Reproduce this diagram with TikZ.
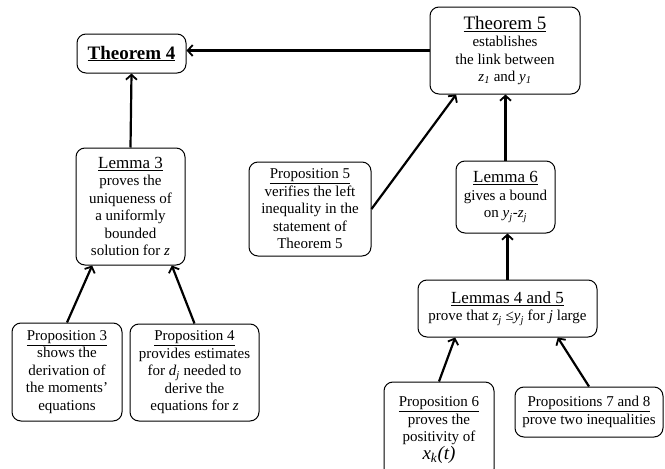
\documentclass[tikz,border=0pt]{standalone}
\usepackage{fontspec}
\setmainfont{Liberation Serif}
\usepackage{tikz}
\usetikzlibrary{arrows.meta}

\newcommand{\isub}[2]{\textit{#1}\textsubscript{\textit{#2}}}

\begin{document}
\begin{tikzpicture}[x=1pt,y=-1pt]
          \tikzstyle{block} = [rectangle, rounded corners=9pt, draw, line width=1pt, align=center, inner sep=0pt, font=\fontsize{15}{17.5}\selectfont]
          \tikzstyle{dep} = [line width=2.2pt, -{Straight Barb[length=5pt,width=11pt,line width=1.8pt]}]
          \newcommand{\thmhead}[1]{{\fontsize{19}{22}\selectfont\underline{#1}}}
          \newcommand{\lemhead}[1]{{\fontsize{17}{20}\selectfont\underline{#1}}}
        \useasboundingbox (0,0) rectangle (665,469);
        \node[block, minimum width=109pt, minimum height=39pt] (t4) at (131.5,53.5) {{\fontsize{19}{22}\selectfont\bfseries\underline{Theorem 4}}};
        \node[block, minimum width=150pt, minimum height=87pt] (t5) at (505,50.5) {\thmhead{Theorem 5}\\ establishes\\ the link between\\ \isub{z}{1} and \isub{y}{1}};
        \node[block, minimum width=109pt, minimum height=117pt] (l3) at (130.5,206.5) {\lemhead{Lemma 3}\\ proves the\\ uniqueness of\\ a uniformly\\ bounded\\ solution for \textit{z}};
        \node[block, minimum width=122pt, minimum height=94pt] (p5) at (310,209) {\underline{Proposition 5}\\ verifies the left\\ inequality in the\\ statement of\\ Theorem 5};
        \node[block, minimum width=99pt, minimum height=72pt] (l6) at (505.5,197) {\lemhead{Lemma 6}\\ gives a bound\\ on \isub{y}{j}-\isub{z}{j}};
        \node[block, minimum width=179pt, minimum height=57pt] (l45) at (507.5,308.5) {\lemhead{Lemmas 4 and 5}\\ prove that \isub{z}{j} ≤\isub{y}{j} for \textit{j} large};
        \node[block, minimum width=110pt, minimum height=96pt] (p6) at (439,430) {\underline{Proposition 6}\\ proves the\\ positivity of\\ {\fontsize{19}{22}\selectfont\isub{x}{k}\textit{(t)}}};
        \node[block, minimum width=148pt, minimum height=50pt] (p78) at (589,412) {\underline{Propositions 7 and 8}\\ prove two inequalities};
        \node[block, minimum width=110pt, minimum height=98pt] (p3) at (67,372) {\underline{Proposition 3}\\ shows the\\ derivation of\\ the moments’\\ equations};
        \node[block, minimum width=129pt, minimum height=97pt] (p4) at (194.5,372.5) {\underline{Proposition 4}\\ provides estimates\\ for \isub{d}{j} needed to\\ derive the\\ equations for \textit{z}};
        \begin{scope}
          \draw[dep] (t5.west) -- (t5.west -| t4.east);
          \draw[dep] (l3.north) -- (t4.south);
          \draw[dep] (p5.east) -- (t5.222);
          \draw[dep] (l6.north) -- (l6.north |- t5.south);
          \draw[dep] (l45.north) -- (l45.north |- l6.south);
          \draw[dep] (p6.north) -- (l45.209);
          \draw[dep] (p78.north) -- (l45.330);
          \draw[dep] (p3.north) -- (l3.237);
          \draw[dep] (p4.north) -- (l3.305);
        \end{scope}
      \end{tikzpicture}
\end{document}
